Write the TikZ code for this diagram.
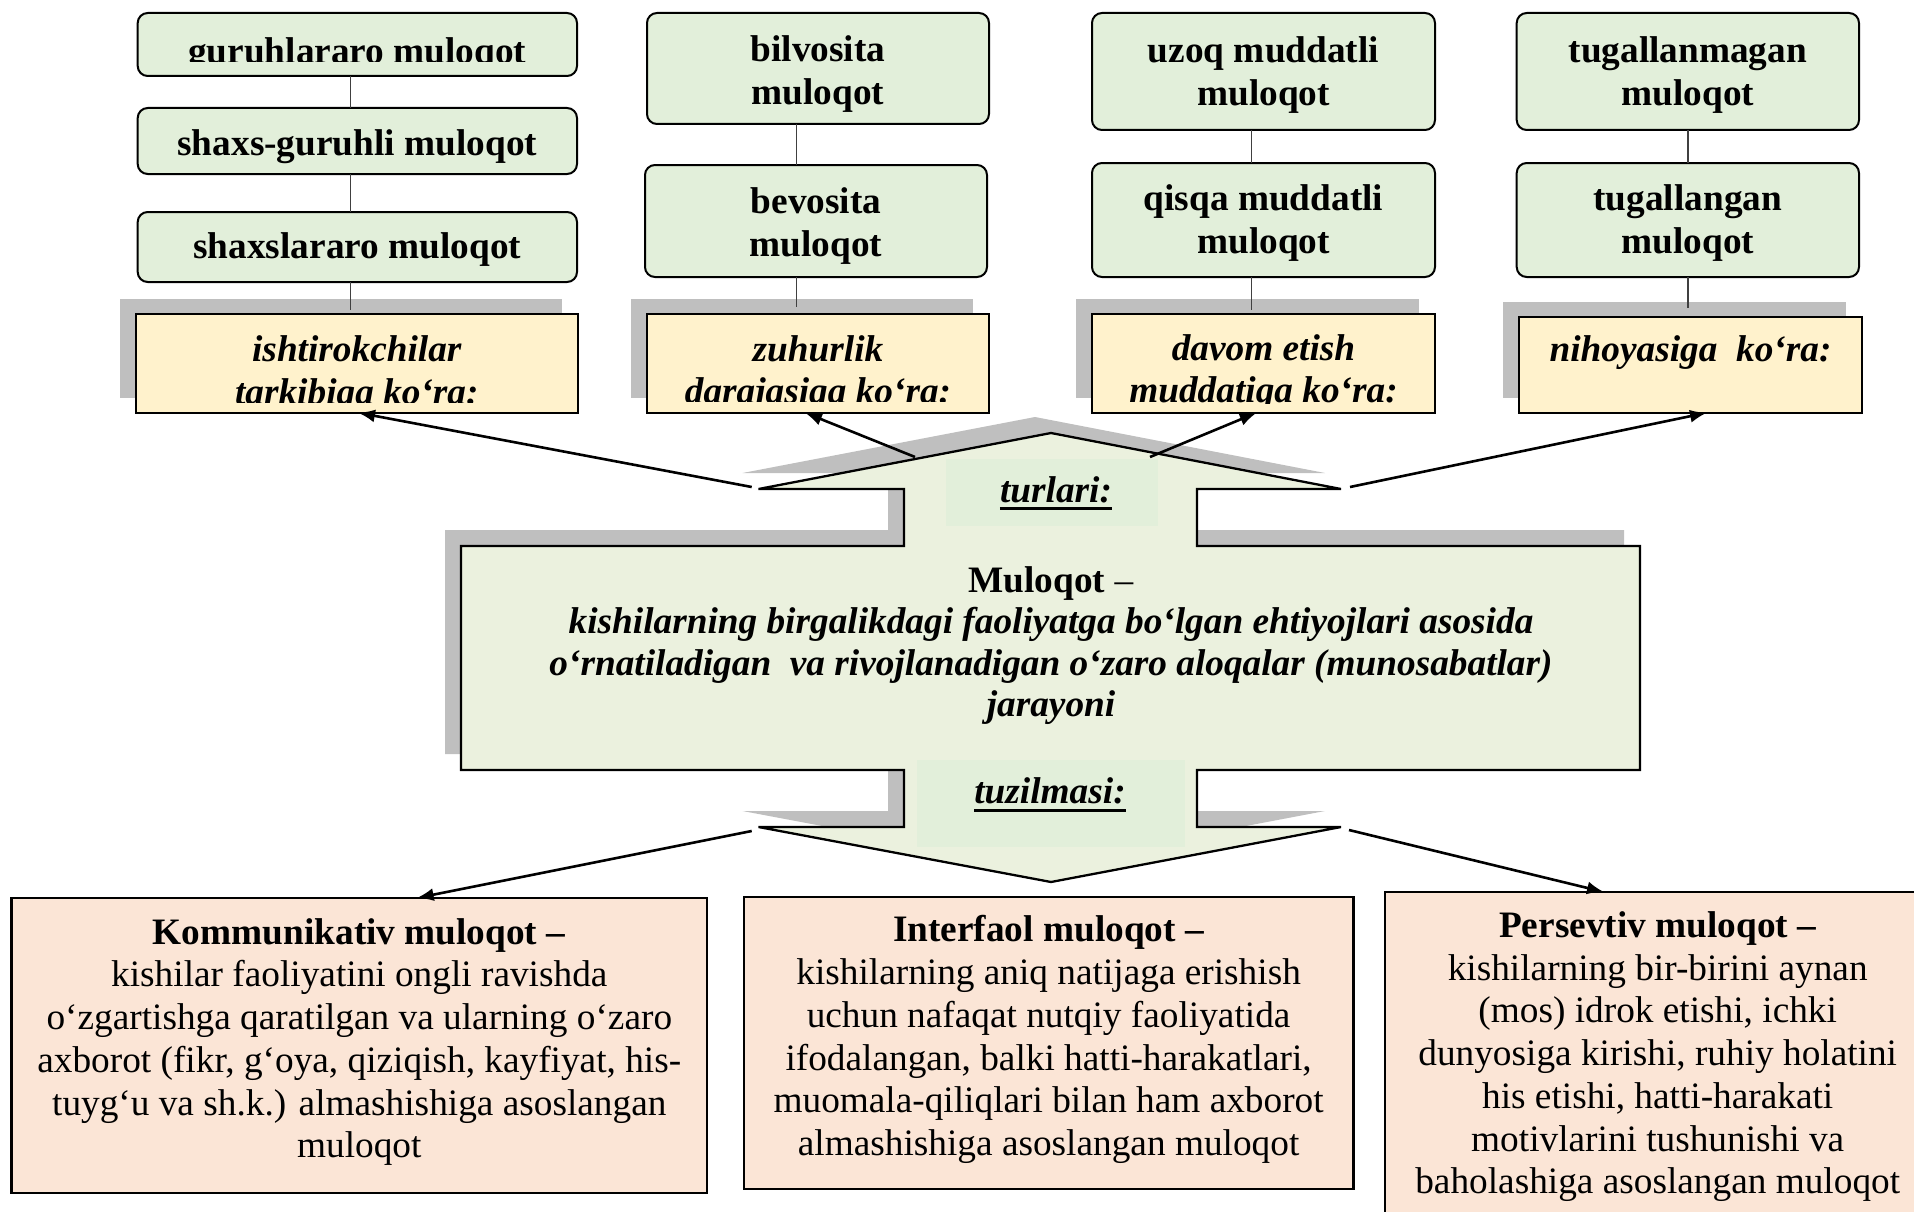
\documentclass[tikz,border=0pt]{standalone}
\usepackage{fontspec}
\setmainfont{Liberation Serif}
\usetikzlibrary{arrows.meta,shadows}
\definecolor{gbox}{HTML}{E2EFDA}
\definecolor{cshape}{HTML}{EBF1DE}
\definecolor{ybox}{HTML}{FFF2CC}
\definecolor{pbox}{HTML}{FBE5D6}
\definecolor{shgray}{HTML}{BFBFBF}
\newcommand{\myCentralPath}{(1051,433) -- (1341,489) -- (1197,489) -- (1197,546) -- (1640,546) -- (1640,770) -- (1197,770) -- (1197,827) -- (1341,827) -- (1051,882) -- (758.5,827) -- (904,827) -- (904,770) -- (461,770) -- (461,546) -- (904,546) -- (904,489) -- (758.5,489) -- cycle}
\begin{document}
\begin{tikzpicture}[x=1pt,y=-1pt,
  fs/.style={font=\fontsize{37.3}{42.7}\selectfont},
  gbx/.style={draw=black, line width=2pt, fill=gbox, rounded corners=10pt, inner sep=0pt, outer sep=0pt, anchor=north west},
  ybx/.style={draw=black, line width=2.3pt, fill=ybox, inner sep=0pt, outer sep=0pt, anchor=north west,
     drop shadow={shadow xshift=-16pt, shadow yshift=15pt, fill=shgray, opacity=1}},
  pbx/.style={draw=black, line width=2.3pt, fill=pbox, inner sep=0pt, outer sep=0pt, anchor=north west},
  gtxt/.style={font=\fontsize{37.3}{42.7}\selectfont\bfseries, align=center, inner sep=0pt},
  ytxt/.style={font=\fontsize{37.3}{42.7}\selectfont\bfseries\itshape, align=center, inner sep=0pt},
  ptxt/.style={font=\fontsize{37.3}{42.7}\selectfont, align=center, inner sep=0pt, anchor=north},
  conn/.style={line width=1.3pt, draw=black!75},
  arr/.style={line width=2.6pt, -{Latex[length=17pt,width=13pt]}}
]
\useasboundingbox (0,0) rectangle (1914,1212);
\clip (0,0) rectangle (1914,1212);

% ---------- yellow boxes ----------
\node[ybx, minimum width=442.3pt, minimum height=98.7pt] (y1) at (135.7,314) {};
\node[ybx, minimum width=342pt, minimum height=98.7pt] (y2) at (647,314) {};
\node[ybx, minimum width=343pt, minimum height=98.7pt] (y3) at (1092,314) {};
\node[ybx, minimum width=343pt, minimum height=96pt] (y4) at (1519,316.7) {};

\begin{scope}
\clip (135.7,314) rectangle (578,402);
\node[ytxt, anchor=north] (y1t) at (356.8,331.8) {\strut ishtirokchilar\\tarkibiga ko‘ra:\strut};
\end{scope}
\begin{scope}
\clip (647,314) rectangle (989,401.7);
\node[ytxt, anchor=north] (y2t) at (818,331.1) {\strut zuhurlik\\darajasiga ko‘ra:\strut};
\end{scope}
\begin{scope}
\clip (1092,314) rectangle (1435,403);
\node[ytxt, anchor=north] (y3t) at (1263.5,330.1) {\strut davom etish\\muddatiga ko‘ra:\strut};
\end{scope}
\node[ytxt, anchor=base] (y4t) at (1690.5,361.7) {nihoyasiga\ \ ko‘ra:};

% ---------- green boxes ----------
\node[gbx, minimum width=439.3pt, minimum height=63pt] (g1) at (137.7,13) {};
\node[gbx, minimum width=439.3pt, minimum height=66pt] (g2) at (137.7,108) {};
\node[gbx, minimum width=439.3pt, minimum height=70pt] (g3) at (137.7,212) {};
\begin{scope}
\clip (137.7,13) rectangle (577,62);
\node[gtxt, anchor=base] (g1t) at (357.3,64) {guruhlararo muloqot};
\end{scope}
\node[gtxt, anchor=base] (g2t) at (357.3,155) {shaxs-guruhli muloqot};
\node[gtxt, anchor=base] (g3t) at (357.3,258) {shaxslararo muloqot};

\node[gbx, minimum width=342pt, minimum height=111pt] (b1) at (647,13) {};
\node[gbx, minimum width=342pt, minimum height=112pt] (b2) at (645,165) {};
\node[gtxt, anchor=north] (b1t) at (818,31.8) {\strut bilvosita\\muloqot\strut};
\node[gtxt, anchor=north] (b2t) at (816,183.4) {\strut bevosita\\muloqot\strut};

\node[gbx, minimum width=343pt, minimum height=117pt] (u1) at (1092,13) {};
\node[gbx, minimum width=343pt, minimum height=114pt] (u2) at (1092,163) {};
\node[gtxt, anchor=north] (u1t) at (1263.5,32.8) {\strut uzoq muddatli\\muloqot\strut};
\node[gtxt, anchor=north] (u2t) at (1263.5,180.8) {\strut qisqa muddatli\\muloqot\strut};

\node[gbx, minimum width=342.3pt, minimum height=117pt] (t1) at (1516.7,13) {};
\node[gbx, minimum width=342.3pt, minimum height=114pt] (t2) at (1516.7,163) {};
\node[gtxt, anchor=north] (t1t) at (1687.8,32.8) {\strut tugallanmagan\\muloqot\strut};
\node[gtxt, anchor=north] (t2t) at (1687.8,180.8) {\strut tugallangan\\muloqot\strut};

% ---------- thin connectors ----------
\coordinate (cx1) at (350.7,0);
\coordinate (cx2) at (796.7,0);
\coordinate (cx3) at (1251.7,0);
\coordinate (cx4) at (1688,0);
\draw[conn] (g1.south -| cx1) -- (g2.north -| cx1);
\draw[conn] (g2.south -| cx1) -- (g3.north -| cx1);
\draw[conn] (g3.south -| cx1) -- ([yshift=4pt]y1.north -| cx1);
\draw[conn] (b1.south -| cx2) -- (b2.north -| cx2);
\draw[conn] (b2.south -| cx2) -- ([yshift=7pt]y2.north -| cx2);
\draw[conn] (u1.south -| cx3) -- (u2.north -| cx3);
\draw[conn] (u2.south -| cx3) -- ([yshift=4pt]y3.north -| cx3);
\draw[conn] (t1.south -| cx4) -- (t2.north -| cx4);
\draw[conn] (t2.south -| cx4) -- ([yshift=9pt]y4.north -| cx4);

% ---------- central double arrow ----------
\fill[shgray, shift={(-16,-16)}] \myCentralPath;
\filldraw[fill=cshape, draw=black, line width=2.3pt, line join=miter] \myCentralPath;
\fill[gbox] (946,459) rectangle (1158,526);
\fill[gbox] (917,760) rectangle (1185,847);

\node[ytxt, anchor=base] (lt) at (1056,502) {turlari:};
\draw[line width=3pt] ([yshift=-6pt]lt.base west) -- ([yshift=-6pt]lt.base east);
\node[ytxt, anchor=base] (lz) at (1050,803) {tuzilmasi:};
\draw[line width=3pt] ([yshift=-7pt]lz.base west) -- ([yshift=-7pt]lz.base east);

\node[font=\fontsize{37.3}{41.5}\selectfont\bfseries\itshape, align=center, inner sep=0pt, anchor=north] (ct) at (1051,562.95)
 {\strut{\upshape Muloqot}{\upshape\mdseries\ –}\\
  kishilarning birgalikdagi faoliyatga bo‘lgan ehtiyojlari asosida\\
  o‘rnatiladigan\ \ va rivojlanadigan o‘zaro aloqalar (munosabatlar)\\
  jarayoni\strut};

% ---------- bottom boxes ----------
\node[pbx, minimum width=695.5pt, minimum height=295pt] (k) at (11.5,898) {};
\node[pbx, minimum width=609.8pt, minimum height=292.3pt] (i) at (743.7,896.7) {};
\node[pbx, minimum width=546pt, minimum height=348pt] (p) at (1385,892) {};

\node[ptxt] (kt) at (359.3,914.1) {\strut\textbf{Kommunikativ muloqot –}\\
  kishilar faoliyatini ongli ravishda\\
  o‘zgartishga qaratilgan va ularning o‘zaro\\
  axborot (fikr, g‘oya, qiziqish, kayfiyat, his-\\
  tuyg‘u va sh.k.) almashishiga asoslangan\\
  muloqot\strut};
\node[ptxt] (it) at (1048.6,911.8) {\strut\textbf{Interfaol muloqot –}\\
  kishilarning aniq natijaga erishish\\
  uchun nafaqat nutqiy faoliyatida\\
  ifodalangan, balki hatti-harakatlari,\\
  muomala-qiliqlari bilan ham axborot\\
  almashishiga asoslangan muloqot\strut};
\node[ptxt] (pt) at (1657.7,907.4) {\strut\textbf{Persevtiv muloqot –}\\
  kishilarning bir-birini aynan\\
  (mos) idrok etishi, ichki\\
  dunyosiga kirishi, ruhiy holatini\\
  his etishi, hatti-harakati\\
  motivlarini tushunishi va\\
  baholashiga asoslangan muloqot\strut};

% ---------- arrows ----------
\coordinate (a1) at (751.7,487);
\coordinate (a2) at (915,457);
\coordinate (a3) at (1150,457);
\coordinate (a4) at (1350,487);
\coordinate (a5) at (751.7,831);
\coordinate (a6) at (1349,830);
\draw[arr] (a1) -- ([xshift=222.3pt]y1.south west);
\draw[arr] (a2) -- ([xshift=158pt]y2.south west);
\draw[arr] (a3) -- ([xshift=164.7pt]y3.south west);
\draw[arr] (a4) -- ([xshift=188pt]y4.south west);
\draw[arr] (a5) -- ([xshift=405.2pt]k.north west);
\draw[arr] (a6) -- ([xshift=219pt]p.north west);
\end{tikzpicture}
\end{document}
